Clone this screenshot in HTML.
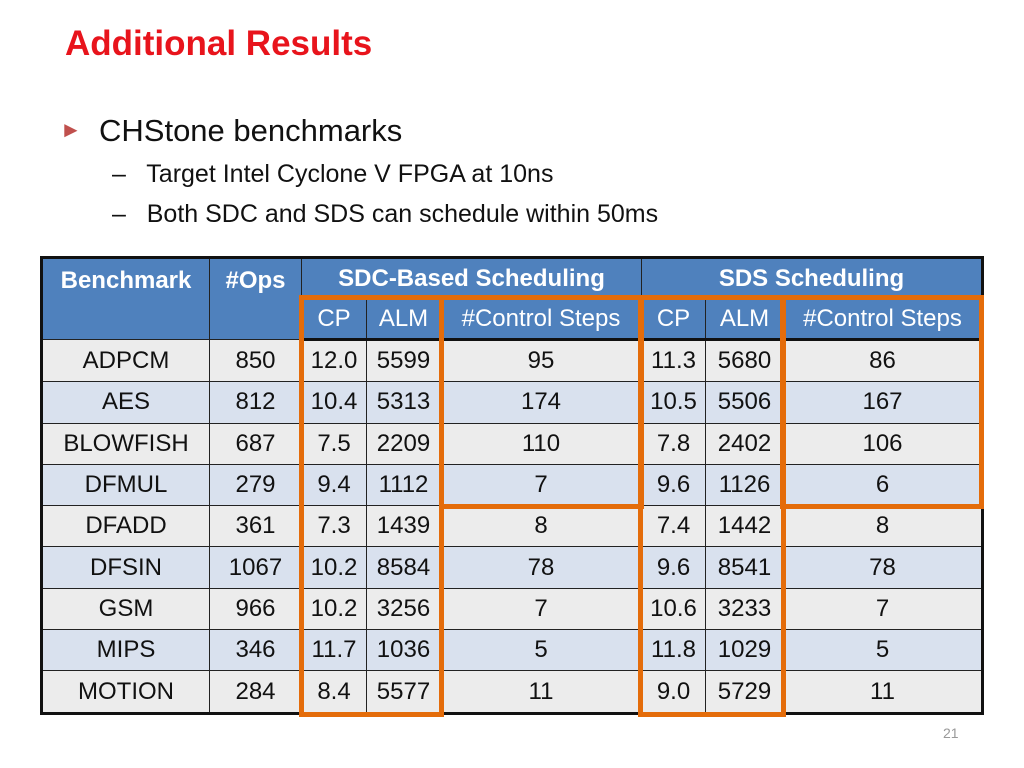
<!DOCTYPE html>
<html><head><meta charset="utf-8"><style>
body{margin:0;width:1024px;height:768px;background:#fff;position:relative;overflow:hidden;font-family:"Liberation Sans",sans-serif}
.abs{position:absolute}
table{position:absolute;left:40px;top:256px;border-collapse:collapse;border:3px solid #111;table-layout:fixed}
td{border:1px solid #222;text-align:center;font-size:24px;color:#111;height:40.3px;padding:0}
tr.h td{background:#4f81bd;color:#fff;font-weight:bold;height:40px}
tr.h2 td{background:#4f81bd;color:#fff;height:38px;border-bottom:3px solid #111}
tr.a td{background:#ececec}
tr.b td{background:#d9e1ee}
.ob{position:absolute;border:5px solid #e46c0a;box-sizing:border-box}
</style></head><body>
<div class="abs" style="left:65px;top:24px;font-size:35px;font-weight:bold;color:#e8141c">Additional Results</div>
<div class="abs" style="left:60px;top:113px;font-size:31px;color:#111"><span style="color:#c0504d;font-size:22px;position:relative;top:-4px">►</span>&nbsp; CHStone benchmarks</div>
<div class="abs" style="left:112px;top:160px;font-size:25px;color:#111">–&nbsp;&nbsp; Target Intel Cyclone V FPGA at 10ns</div>
<div class="abs" style="left:112px;top:200px;font-size:25px;color:#111">–&nbsp;&nbsp; Both SDC and SDS can schedule within 50ms</div>
<table>
<colgroup><col style="width:168px"><col style="width:92px"><col style="width:65px"><col style="width:74px"><col style="width:201px"><col style="width:64px"><col style="width:78px"><col style="width:199px"></colgroup>
<tr class="h"><td rowspan="2" style="vertical-align:top;padding-top:8px">Benchmark</td><td rowspan="2" style="vertical-align:top;padding-top:8px">#Ops</td><td colspan="3">SDC-Based Scheduling</td><td colspan="3">SDS Scheduling</td></tr>
<tr class="h2"><td>CP</td><td>ALM</td><td>#Control Steps</td><td>CP</td><td>ALM</td><td>#Control Steps</td></tr>
<tr class="a"><td>ADPCM</td><td>850</td><td>12.0</td><td>5599</td><td>95</td><td>11.3</td><td>5680</td><td>86</td></tr>
<tr class="b"><td>AES</td><td>812</td><td>10.4</td><td>5313</td><td>174</td><td>10.5</td><td>5506</td><td>167</td></tr>
<tr class="a"><td>BLOWFISH</td><td>687</td><td>7.5</td><td>2209</td><td>110</td><td>7.8</td><td>2402</td><td>106</td></tr>
<tr class="b"><td>DFMUL</td><td>279</td><td>9.4</td><td>1112</td><td>7</td><td>9.6</td><td>1126</td><td>6</td></tr>
<tr class="a"><td>DFADD</td><td>361</td><td>7.3</td><td>1439</td><td>8</td><td>7.4</td><td>1442</td><td>8</td></tr>
<tr class="b"><td>DFSIN</td><td>1067</td><td>10.2</td><td>8584</td><td>78</td><td>9.6</td><td>8541</td><td>78</td></tr>
<tr class="a"><td>GSM</td><td>966</td><td>10.2</td><td>3256</td><td>7</td><td>10.6</td><td>3233</td><td>7</td></tr>
<tr class="b"><td>MIPS</td><td>346</td><td>11.7</td><td>1036</td><td>5</td><td>11.8</td><td>1029</td><td>5</td></tr>
<tr class="a"><td>MOTION</td><td>284</td><td>8.4</td><td>5577</td><td>11</td><td>9.0</td><td>5729</td><td>11</td></tr>
</table>
<div class="ob" style="left:299px;top:295px;width:145px;height:422px"></div>
<div class="ob" style="left:439px;top:295px;width:205px;height:214px"></div>
<div class="ob" style="left:638px;top:295px;width:148px;height:422px"></div>
<div class="ob" style="left:780px;top:295px;width:204px;height:214px"></div>
<div class="abs" style="left:943px;top:725px;font-size:14px;color:#999">21</div>
</body></html>
